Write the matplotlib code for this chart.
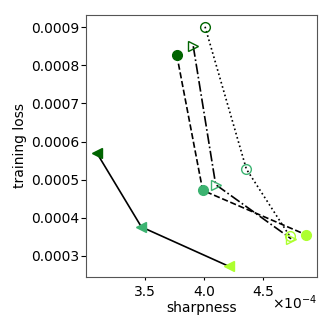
import matplotlib.pyplot as plt
import numpy as np

# sharpness (x1e-4) and training loss for each run
sharp_a = np.array([3.09, 3.47, 4.21]) * 1e-4
loss_a = np.array([0.000571, 0.000376, 0.000273])

sharp_b = np.array([3.77, 3.99, 4.87]) * 1e-4
loss_b = np.array([0.000827, 0.000472, 0.000355])

sharp_c = np.array([3.91, 4.10, 4.74]) * 1e-4
loss_c = np.array([0.000850, 0.000487, 0.000345])

sharp_d = np.array([4.01, 4.36, 4.73]) * 1e-4
loss_d = np.array([0.000901, 0.000528, 0.000351])

colors = ["darkgreen", "mediumseagreen", "greenyellow"]

fig = plt.figure(figsize=(3.32, 3.32), dpi=100)
ax = fig.add_axes([0.259, 0.166, 0.696, 0.789])

series = [
    (sharp_a, loss_a, "-", "<", True),
    (sharp_b, loss_b, "--", "o", True),
    (sharp_c, loss_c, "-.", ">", False),
    (sharp_d, loss_d, ":", "o", False),
]

for x, y, ls, mk, filled in series:
    ax.plot(x, y, color="black", linestyle=ls, linewidth=1.2, zorder=1)
    for xi, yi, c in zip(x, y, colors):
        if filled:
            ax.plot(xi, yi, marker=mk, markersize=7, color=c, linestyle="none", zorder=2)
        else:
            ax.plot(xi, yi, marker=mk, markersize=7, color=c, markerfacecolor="none",
                    linestyle="none", zorder=2)

ax.set_xlim(3.0e-4, 4.96e-4)
ax.set_ylim(0.000245, 0.000932)
ax.set_xticks([3.5e-4, 4.0e-4, 4.5e-4])
ax.set_xticklabels(["3.5", "4.0", "4.5"])
ax.set_yticks([0.0003, 0.0004, 0.0005, 0.0006, 0.0007, 0.0008, 0.0009])
ax.tick_params(axis="x", length=2.5, pad=3)
ax.tick_params(axis="y", length=3.5, pad=1)
ax.text(1.0, -0.122, r"$\times10^{-4}$", transform=ax.transAxes,
        ha="right", va="baseline", fontsize=10)
ax.set_xlabel("sharpness", labelpad=1.8)
ax.set_ylabel("training loss", labelpad=3)
for s in ax.spines.values():
    s.set_color("#555555")

fig.savefig("out.png", dpi=100)
